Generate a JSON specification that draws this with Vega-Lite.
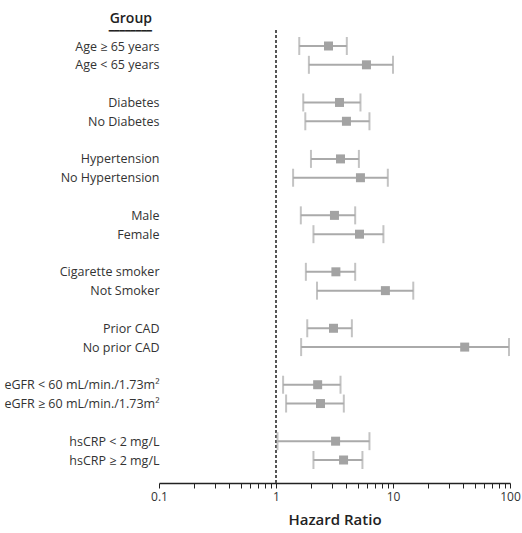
{
  "$schema": "https://vega.github.io/schema/vega-lite/v6.json",
  "width": 351,
  "height": 453,
  "autosize": {"type": "none"},
  "padding": {"left": 159, "top": 30, "right": 12, "bottom": 50},
  "config": {
    "view": {"stroke": null},
    "font": "Open Sans"
  },
  "title": {
    "text": "Group",
    "subtitle": "━━━━━━━━",
    "anchor": "start",
    "frame": "group",
    "align": "right",
    "dx": -7,
    "offset": -7,
    "font": "Open Sans",
    "fontSize": 14,
    "fontWeight": 600,
    "color": "#222",
    "subtitleFont": "DejaVu Sans",
    "subtitleFontSize": 9,
    "subtitleColor": "#222",
    "subtitlePadding": 1
  },
  "data": {
    "values": [
      {"group": "Age ≥ 65 years", "hr": 2.81, "low": 1.58, "high": 4.03},
      {"group": "Age < 65 years", "hr": 5.93, "low": 1.91, "high": 10.0},
      {"group": "Diabetes", "hr": 3.49, "low": 1.71, "high": 5.27},
      {"group": "No Diabetes", "hr": 4.0, "low": 1.78, "high": 6.29},
      {"group": "Hypertension", "hr": 3.56, "low": 1.99, "high": 5.11},
      {"group": "No Hypertension", "hr": 5.27, "low": 1.40, "high": 9.03},
      {"group": "Male", "hr": 3.16, "low": 1.63, "high": 4.75},
      {"group": "Female", "hr": 5.17, "low": 2.09, "high": 8.28},
      {"group": "Cigarette smoker", "hr": 3.25, "low": 1.80, "high": 4.75},
      {"group": "Not Smoker", "hr": 8.61, "low": 2.24, "high": 14.9},
      {"group": "Prior CAD", "hr": 3.10, "low": 1.85, "high": 4.45},
      {"group": "No prior CAD", "hr": 41.0, "low": 1.64, "high": 98.0},
      {"group": "eGFR < 60 mL/min./1.73m²", "hr": 2.27, "low": 1.15, "high": 3.56},
      {"group": "eGFR ≥ 60 mL/min./1.73m²", "hr": 2.40, "low": 1.22, "high": 3.80},
      {"group": "hsCRP < 2 mg/L", "hr": 3.23, "low": 1.03, "high": 6.29},
      {"group": "hsCRP ≥ 2 mg/L", "hr": 3.78, "low": 2.09, "high": 5.48}
    ]
  },
  "encoding": {
    "y": {
      "field": "group",
      "type": "nominal",
      "scale": {
        "type": "point",
        "padding": 0,
        "range": [16, 430],
        "domain": [
          "Age ≥ 65 years", "Age < 65 years", " ",
          "Diabetes", "No Diabetes", "  ",
          "Hypertension", "No Hypertension", "   ",
          "Male", "Female", "    ",
          "Cigarette smoker", "Not Smoker", "     ",
          "Prior CAD", "No prior CAD", "      ",
          "eGFR < 60 mL/min./1.73m²", "eGFR ≥ 60 mL/min./1.73m²", "       ",
          "hsCRP < 2 mg/L", "hsCRP ≥ 2 mg/L"
        ]
      },
      "axis": {
        "title": null,
        "domain": false,
        "ticks": false,
        "grid": false,
        "labelPadding": 0,
        "labelFontSize": 12.5,
        "labelColor": "#333",
        "labelFont": "Open Sans",
        "labelLimit": 300
      }
    }
  },
  "layer": [
    {
      "mark": {"type": "rule", "color": "#555", "strokeDash": [3, 2], "strokeWidth": 2},
      "encoding": {
        "x": {"datum": 1, "type": "quantitative", "scale": {"type": "log"}},
        "y": null
      }
    },
    {
      "mark": {
        "type": "errorbar",
        "color": "#aaaaaa",
        "rule": {"strokeWidth": 2},
        "ticks": {"size": 18, "thickness": 2}
      },
      "encoding": {
        "x": {
          "field": "low",
          "type": "quantitative",
          "scale": {"type": "log", "domain": [0.1, 100], "nice": false},
          "axis": {
            "title": "Hazard Ratio",
            "grid": false,
            "values": [0.1, 0.2, 0.3, 0.4, 0.5, 0.6, 0.7, 0.8, 0.9, 1, 2, 3, 4, 5, 6, 7, 8, 9, 10, 20, 30, 40, 50, 60, 70, 80, 90, 100],
            "format": "~g",
            "labelExpr": "indexof([0.1, 1, 10, 100], datum.value) >= 0 ? datum.label : ''",
            "labelFlush": false,
            "domainColor": "#222",
            "domainWidth": 1.5,
            "tickColor": "#222",
            "tickSize": 5,
            "tickWidth": 1,
            "labelFontSize": 12,
            "labelColor": "#333",
            "labelPadding": 3,
            "labelFont": "Open Sans",
            "titleFont": "Open Sans",
            "titleFontSize": 15,
            "titleFontWeight": 600,
            "titleColor": "#222",
            "titlePadding": 10
          }
        },
        "x2": {"field": "high"}
      }
    },
    {
      "mark": {"type": "square", "color": "#a3a3a3", "opacity": 1, "size": 81, "filled": true},
      "encoding": {
        "x": {"field": "hr", "type": "quantitative"}
      }
    }
  ]
}
